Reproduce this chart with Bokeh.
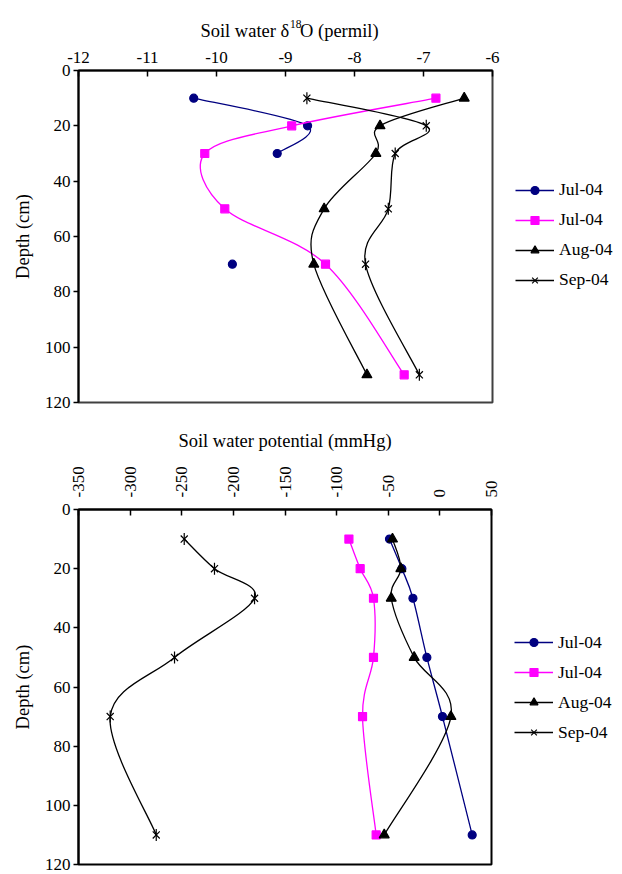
import math
from bokeh.plotting import figure
from bokeh.models import Range1d, FixedTicker, Legend, LegendItem
from bokeh.core.properties import value
from bokeh.layouts import column
from bokeh.embed import file_html
from bokeh.resources import INLINE

nan = float("nan")

# ---------------- data ----------------
depth = [10, 20, 30, 50, 70, 110]
depth_ticks = [0, 20, 40, 60, 80, 100, 120]

d18o_ticks = [-12, -11, -10, -9, -8, -7, -6]
d18o_jul_a = [-10.33, -8.68, -9.12, nan, -9.77, nan]
d18o_jul_b = [-6.82, -8.91, -10.17, -9.88, -8.42, -7.28]
d18o_aug = [-6.41, -7.63, -7.69, -8.44, -8.59, -7.82]
d18o_sep = [-8.69, -6.96, -7.41, -7.51, -7.84, -7.06]

psi_ticks = [-350, -300, -250, -200, -150, -100, -50, 0, 50]
psi_jul_a = [-48.8, -36.8, -26.1, -12.6, 2.5, 31.3]
psi_jul_b = [-88.1, -77.2, -64.3, -64.3, -74.9, -61.7]
psi_aug = [-45.9, -37.8, -47.1, -24.9, 10.7, -53.9]
psi_sep = [-247.6, -218.3, -179.5, -257.0, -319.3, -274.7]

series_labels = ["Jul-04", "Jul-04", "Aug-04", "Sep-04"]
series_colors = ["#000080", "#FF00FF", "#000000", "#000000"]
series_markers = ["circle", "square", "triangle", "star6"]
series_sizes = [8, 8, 10, 10]

FONT = "Liberation Serif"
FS_TICK = "17px"
FS_LEG = "17.5px"
FS_TITLE = "18.5px"


def smooth_segments(xs, ys):
    """Bezier segments (Catmull-Rom style) through consecutive valid points."""
    groups, cur = [], []
    for x, y in zip(xs, ys):
        if x != x:
            if cur:
                groups.append(cur)
            cur = []
        else:
            cur.append((x, y))
    if cur:
        groups.append(cur)
    seg = dict(x0=[], y0=[], x1=[], y1=[], cx0=[], cy0=[], cx1=[], cy1=[])
    for g in groups:
        n = len(g)
        for i in range(n - 1):
            p0 = g[i - 1] if i > 0 else g[i]
            p1 = g[i]
            p2 = g[i + 1]
            p3 = g[i + 2] if i + 2 < n else g[i + 1]
            seg["x0"].append(p1[0]); seg["y0"].append(p1[1])
            seg["x1"].append(p2[0]); seg["y1"].append(p2[1])
            seg["cx0"].append(p1[0] + (p2[0] - p0[0]) / 6.0)
            seg["cy0"].append(p1[1] + (p2[1] - p0[1]) / 6.0)
            seg["cx1"].append(p2[0] - (p3[0] - p1[0]) / 6.0)
            seg["cy1"].append(p2[1] - (p3[1] - p1[1]) / 6.0)
    return seg


def make_fig(xr, xticks, fw, fh, b_top, b_left, b_bottom, outline, series,
             leg_dy):
    p = figure(frame_width=fw, frame_height=fh,
               x_range=Range1d(xr[0], xr[1]), y_range=Range1d(120, 0),
               x_axis_location="above", output_backend="svg",
               toolbar_location=None,
               min_border_top=b_top, min_border_left=b_left,
               min_border_right=0, min_border_bottom=b_bottom)
    p.xgrid.visible = False
    p.ygrid.visible = False
    p.outline_line_color = outline
    p.outline_line_width = 2
    p.background_fill_color = "white"

    p.xaxis.ticker = FixedTicker(ticks=xticks)
    p.yaxis.ticker = FixedTicker(ticks=depth_ticks)
    p.xaxis.major_label_overrides = {t: str(t) for t in xticks}
    p.yaxis.major_label_overrides = {t: str(t) for t in depth_ticks}
    for ax in (p.xaxis[0], p.yaxis[0]):
        ax.axis_line_width = 2
        ax.axis_line_color = "black"
        ax.major_tick_line_color = "black"
        ax.major_tick_line_width = 1.5
        ax.minor_tick_line_color = None
        ax.major_label_text_font = FONT
        ax.major_label_text_font_size = FS_TICK
        ax.major_label_text_color = "black"
        ax.axis_label_text_font = FONT
        ax.axis_label_text_font_size = FS_TITLE
        ax.axis_label_text_font_style = "normal"
        ax.axis_label_text_color = "black"

    p.xaxis.major_tick_in = 6
    p.xaxis.major_tick_out = 0
    p.yaxis.major_tick_in = 0
    p.yaxis.major_tick_out = 5
    p.yaxis.major_label_standoff = 3
    p.yaxis.axis_label = "Depth (cm)"
    p.yaxis.axis_label_standoff = 9

    items = []
    for vals, lab, col, mk, sz in zip(series, series_labels, series_colors,
                                      series_markers, series_sizes):
        seg = smooth_segments(vals, depth)
        br = p.bezier(line_color=col, line_width=1.3, **seg)
        rends = [br]
        if mk == "star6":
            r1 = p.scatter(vals, depth, marker="x", size=sz, line_color=col,
                           line_width=1.2)
            r2 = p.scatter(vals, depth, marker="dash", size=sz * 1.2,
                           angle=math.pi / 2, line_color=col, line_width=1.2)
            rends += [r1, r2]
        else:
            sr = p.scatter(vals, depth, marker=mk, size=sz, fill_color=col,
                           line_color=col, line_width=1.2)
            rends.append(sr)
        items.append(LegendItem(label=lab, renderers=rends))

    legend = Legend(items=items, location=(13, fh / 2 - leg_dy),
                    label_text_font=FONT, label_text_font_size=FS_LEG,
                    label_text_color="black",
                    glyph_width=39, glyph_height=20, label_height=20,
                    label_standoff=5, spacing=9, padding=10, margin=0,
                    border_line_alpha=0, background_fill_alpha=0)
    p.add_layout(legend, "right")
    return p


# ---------------- top chart ----------------
p1 = make_fig((-12, -6), d18o_ticks, 414, 332, 28, 76, 12, "#404040",
              [d18o_jul_a, d18o_jul_b, d18o_aug, d18o_sep], 64)
p1.xaxis.major_label_standoff = 8

# title strip above the top chart (shares its x scale)
tf = figure(frame_width=414, frame_height=42, x_range=p1.x_range,
            y_range=Range1d(0, 42), x_axis_location=None, y_axis_location=None,
            output_backend="svg", toolbar_location=None,
            min_border_left=76, min_border_right=0, min_border_top=0,
            min_border_bottom=0)
tf.outline_line_color = None
tf.grid.visible = False
tf.text(x=[-8.945], y=[12], text=["Soil water \u03b4"], text_align="right",
        text_baseline="alphabetic", text_font=value(FONT),
        text_font_size=FS_TITLE, text_color="black")
tf.text(x=[-8.935], y=[19], text=["18"], text_align="left",
        text_baseline="alphabetic", text_font=value(FONT),
        text_font_size="11.5px", text_color="black")
tf.text(x=[-8.79], y=[12], text=["O (permil)"], text_align="left",
        text_baseline="alphabetic", text_font=value(FONT),
        text_font_size=FS_TITLE, text_color="black")

# ---------------- bottom chart ----------------
p2 = make_fig((-350, 50), psi_ticks, 413, 355, 95, 78, 10, "black",
              [psi_jul_a, psi_jul_b, psi_aug, psi_sep], 66)
p2.xaxis.major_label_orientation = math.pi / 2
p2.xaxis.major_label_standoff = 12
p2.xaxis.axis_label = "Soil water potential (mmHg)"
p2.xaxis.axis_label_standoff = 12

layout = column(tf, p1, p2, spacing=0)

with open("out.html", "w") as f:
    f.write(file_html(layout, INLINE))
